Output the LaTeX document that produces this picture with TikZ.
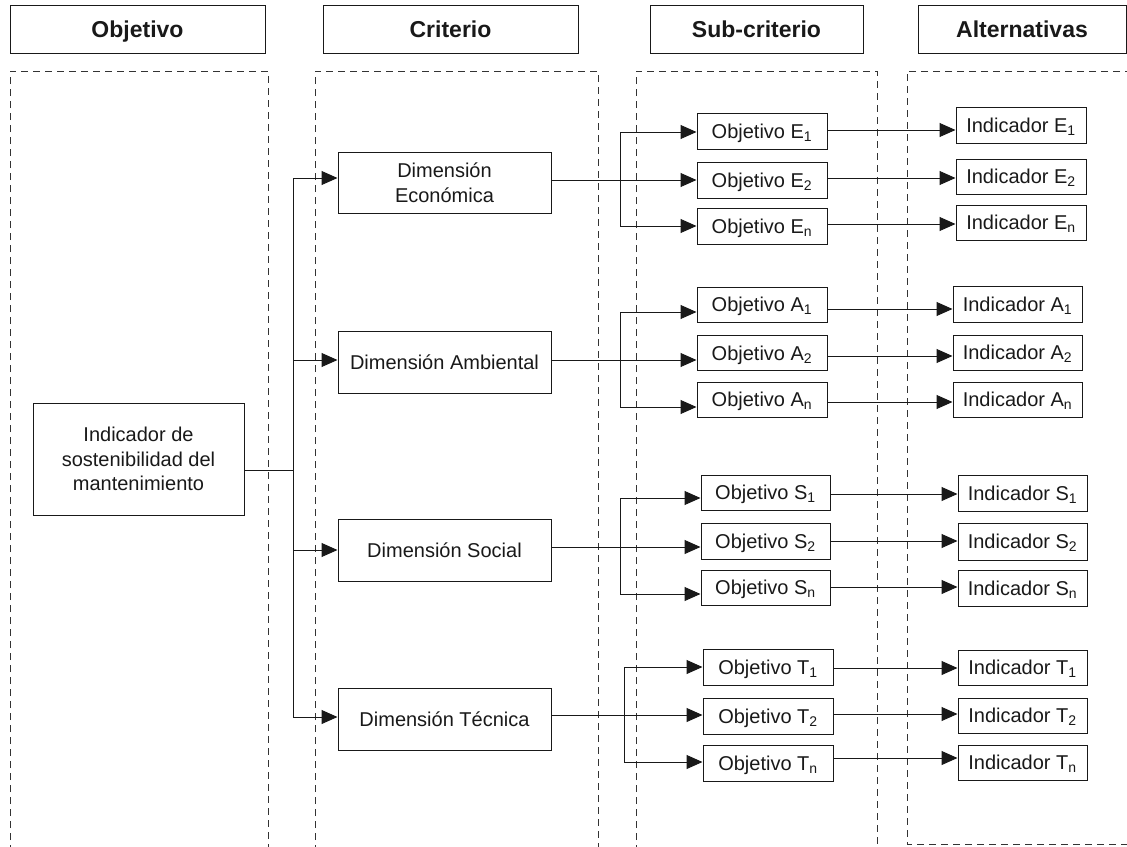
\documentclass[tikz,border=0pt]{standalone}
\usepackage{fontspec}
\setmainfont{Liberation Sans}
\usetikzlibrary{arrows.meta}
\newcommand\zsb{\rule[-5pt]{0pt}{24pt}}
\newcommand\zsh{\rule[-5pt]{0pt}{26.5pt}}
\begin{document}
\begin{tikzpicture}[x=1pt,y=-1pt,
  box/.style={draw=black!90, line width=1pt, inner sep=0pt, align=center, text=black!90, font=\fontsize{20}{24.5}\selectfont},
  sbox/.style={box, execute at begin node=\zsb},
  hdr/.style={box, minimum height=48pt, execute at begin node=\zsh, font=\fontsize{23}{28}\selectfont\bfseries},
  obox/.style={sbox, minimum width=130pt, minimum height=36pt},
  ibox/.style={sbox, minimum width=130pt, minimum height=36pt},
  dbox/.style={sbox, minimum width=213pt, minimum height=62pt},
  panel/.style={draw=black!80, line width=1pt, dash pattern=on 7pt off 5pt},
  conn/.style={draw=black!90, line width=1pt},
  arr/.style={conn, -{Triangle[length=16pt,width=14pt]}}]
\useasboundingbox (0,0) rectangle (1127,846);

% headers
\node[hdr, minimum width=255pt] (hO) at (137.5,29) {Objetivo};
\node[hdr, minimum width=255pt] (hC) at (450.5,29) {Criterio};
\node[hdr, minimum width=213pt] (hS) at (756.5,29) {Sub-criterio};
\node[hdr, minimum width=208pt] (hA) at (1022,29) {Alternativas};

% panels
\draw[panel] (10,852) -- (10,71) -- (268,71) -- (268,852);
\draw[panel] (315,852) -- (315,71) -- (598,71) -- (598,852);
\draw[panel] (636,852) -- (636,71) -- (877,71) -- (877,852);
\draw[panel] (1132,71) -- (907,71) -- (907,844) -- (1132,844);

% main
\node[box, minimum width=211pt, minimum height=112pt] (main) at (138.5,459) {Indicador de\\sostenibilidad del\\mantenimiento};

% dimensions
\node[box, minimum width=213pt, minimum height=61pt] (dE) at (444.5,182.5) {Dimensión\\Económica};
\node[dbox] (dA) at (444.5,362) {Dimensión Ambiental};
\node[dbox] (dS) at (444.5,550) {Dimensión Social};
\node[dbox] (dT) at (444.5,719) {Dimensión Técnica};

% objectives
\node[obox] (oE1) at (762,131) {Objetivo E\textsubscript{1}};
\node[obox] (oE2) at (762,180) {Objetivo E\textsubscript{2}};
\node[obox] (oEn) at (762,226) {Objetivo E\textsubscript{n}};
\node[obox, minimum height=35pt] (oA1) at (762,304.5) {Objetivo A\textsubscript{1}};
\node[obox, minimum height=35pt] (oA2) at (762,353) {Objetivo A\textsubscript{2}};
\node[obox, minimum height=35pt] (oAn) at (762,399.5) {Objetivo A\textsubscript{n}};
\node[obox, minimum width=129pt, minimum height=35pt] (oS1) at (765.5,492.5) {Objetivo S\textsubscript{1}};
\node[obox, minimum width=129pt] (oS2) at (765.5,541) {Objetivo S\textsubscript{2}};
\node[obox, minimum width=129pt, minimum height=35pt] (oSn) at (765.5,587.5) {Objetivo S\textsubscript{n}};
\node[obox] (oT1) at (768,667) {Objetivo T\textsubscript{1}};
\node[obox] (oT2) at (768,716) {Objetivo T\textsubscript{2}};
\node[obox] (oTn) at (768,763) {Objetivo T\textsubscript{n}};

% indicators
\node[ibox] (iE1) at (1021,125) {Indicador E\textsubscript{1}};
\node[ibox, minimum height=35pt] (iE2) at (1021,176.5) {Indicador E\textsubscript{2}};
\node[ibox, minimum height=35pt] (iEn) at (1021,222.5) {Indicador E\textsubscript{n}};
\node[ibox, minimum width=129pt] (iA1) at (1017.5,304) {Indicador A\textsubscript{1}};
\node[ibox, minimum width=129pt, minimum height=35pt] (iA2) at (1017.5,352.5) {Indicador A\textsubscript{2}};
\node[ibox, minimum width=129pt, minimum height=35pt] (iAn) at (1017.5,399.5) {Indicador A\textsubscript{n}};
\node[ibox, minimum width=129pt] (iS1) at (1022.5,493) {Indicador S\textsubscript{1}};
\node[ibox, minimum width=129pt, minimum height=37pt] (iS2) at (1022.5,541.5) {Indicador S\textsubscript{2}};
\node[ibox, minimum width=129pt] (iSn) at (1022.5,588) {Indicador S\textsubscript{n}};
\node[ibox, minimum width=129pt, minimum height=35pt] (iT1) at (1022.5,667.5) {Indicador T\textsubscript{1}};
\node[ibox, minimum width=129pt, minimum height=35pt] (iT2) at (1022.5,715.5) {Indicador T\textsubscript{2}};
\node[ibox, minimum width=129pt, minimum height=35pt] (iTn) at (1022.5,762.5) {Indicador T\textsubscript{n}};

% trunk from main to dimensions
\coordinate (t) at (293,470);
\coordinate (tTop) at (293,178);
\coordinate (tBot) at (293,717);
\draw[conn] (main.east |- t) -- (t);
\draw[conn] (tTop) -- (tBot);
\draw[arr] (tTop) -- (dE.west |- tTop);
\draw[arr] (293,360) -- (dA.west |- 0,360);
\draw[arr] (293,550) -- (dS.west |- 0,550);
\draw[arr] (tBot) -- (dT.west |- tBot);

% dimension -> objectives
\draw[arr] (dE.east |- oE2) -- (oE2.west);
\coordinate (bE) at (620,180);
\draw[arr] (bE) |- (oE1.west |- 0,132);
\draw[arr] (bE) |- (oEn.west);

\draw[arr] (dA.east |- 0,360) -- (oA2.west |- 0,360);
\coordinate (bA) at (620,360);
\draw[arr] (bA) |- (oA1.west |- 0,312);
\draw[arr] (bA) |- (oAn.west |- 0,407);

\draw[arr] (dS.east |- 0,547) -- (oS2.west |- 0,547);
\coordinate (bS) at (620,547);
\draw[arr] (bS) |- (oS1.west |- 0,498);
\draw[arr] (bS) |- (oSn.west |- 0,594);

\draw[arr] (dT.east |- 0,715) -- (oT2.west |- 0,715);
\coordinate (bT) at (624,715);
\draw[arr] (bT) |- (oT1.west |- 0,667);
\draw[arr] (bT) |- (oTn.west |- 0,762);

% objectives -> indicators
\draw[arr] (oE1.east |- 0,130) -- (iE1.west |- 0,130);
\draw[arr] (oE2.east |- 0,178) -- (iE2.west |- 0,178);
\draw[arr] (oEn.east |- 0,224) -- (iEn.west |- 0,224);
\draw[arr] (oA1.east |- 0,309) -- (iA1.west |- 0,309);
\draw[arr] (oA2.east |- 0,356) -- (iA2.west |- 0,356);
\draw[arr] (oAn.east |- 0,402) -- (iAn.west |- 0,402);
\draw[arr] (oS1.east |- 0,494) -- (iS1.west |- 0,494);
\draw[arr] (oS2.east |- 0,541) -- (iS2.west |- 0,541);
\draw[arr] (oSn.east |- 0,587) -- (iSn.west |- 0,587);
\draw[arr] (oT1.east |- 0,668) -- (iT1.west |- 0,668);
\draw[arr] (oT2.east |- 0,714) -- (iT2.west |- 0,714);
\draw[arr] (oTn.east |- 0,758) -- (iTn.west |- 0,758);
\end{tikzpicture}
\end{document}
